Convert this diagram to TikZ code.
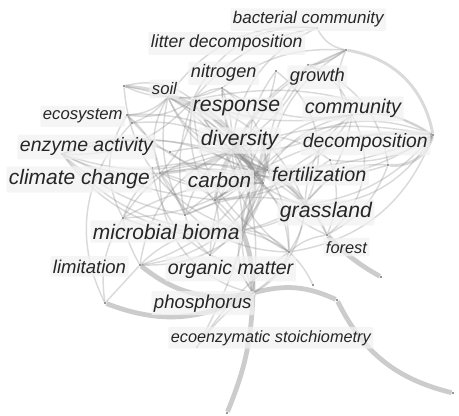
\documentclass[tikz,border=0pt]{standalone}
\usepackage{fontspec}
\newfontfamily\kwfont{Liberation Sans}
\usetikzlibrary{positioning}

\begin{document}
\begin{tikzpicture}[
        x=0.75pt, y=-0.75pt,
        dot/.style={circle, fill=black!55, inner sep=0pt, minimum size=1.8pt},
        link/.style={draw=black!45, draw opacity=0.32, line width=1.1pt},
        wide/.style={link, line width=2.2pt},
        strong/.style={draw=black!20, line width=3.6pt},
        kw/.style={font=\kwfont\itshape\fontsize{#1}{#1}\selectfont, text=black!85,
            fill=black!5, fill opacity=0.75, text opacity=1, inner xsep=2pt,
            inner ysep=2.5pt, anchor=base west, rounded corners=1pt}
    ]

    \useasboundingbox (0,0) rectangle (459,416);

    % keyword positions
    \node[dot] (bac) at (317,28) {};
    \node[dot] (lit) at (346,50) {};
    \node[dot] (gro) at (308,65) {};
    \node[dot] (grb) at (276,71) {};
    \node[dot] (nit) at (222,88) {};
    \node[dot] (soi) at (168,97) {};
    \node[dot] (soa) at (124,86) {};
    \node[dot] (eco) at (127,115) {};
    \node[dot] (ecb) at (132,123) {};
    \node[dot] (res) at (193,100) {};
    \node[dot] (com) at (352,115) {};
    \node[dot] (enz) at (62,154) {};
    \node[dot] (ena) at (170,152) {};
    \node[dot] (cli) at (160,173) {};
    \node[dot] (clb) at (152,168) {};
    \node[dot] (div) at (232,150) {};
    \node[dot] (dva) at (262,135) {};
    \node[dot] (dec) at (433,135) {};
    \node[dot] (dcb) at (388,165) {};
    \node[dot] (car) at (255,175) {};
    \node[dot] (fer) at (267,170) {};
    \node[dot] (fea) at (263,183) {};
    \node[dot] (gra) at (305,205) {};
    \node[dot] (mic) at (242,230) {};
    \node[dot] (mcb) at (123,218) {};
    \node[dot] (org) at (289,252) {};
    \node[dot] (orb) at (210,255) {};
    \node[dot] (for) at (327,235) {};
    \node[dot] (foe) at (381,277) {};
    \node[dot] (lim) at (140,265) {};
    \node[dot] (lmb) at (105,303) {};
    \node[dot] (pho) at (253,293) {};
    \node[dot] (phb) at (313,285) {};
    \node[dot] (phc) at (337,300) {};
    \node[dot] (pen) at (453,393) {};
    \node[dot] (eez) at (197,347) {};
    \node[dot] (bot) at (227,413) {};
    \node[dot] (cen) at (215,200) {};
    \node[dot] (mid) at (330,160) {};
    \node[dot] (lft) at (185,215) {};

    % light wide arcs
    \draw[strong] (lmb) to[bend right=25] (pho);
    \draw[strong] (lim) to[bend right=25] (pho);
    \draw[strong] (mic) to[bend left=10] (pho);
    \draw[strong] (pho) to[bend left=10] (bot);
    \draw[strong] (pho) to[bend left=20] (phc);
    \draw[strong] (phc) to[bend right=25] (pen);
    \draw[strong] (for) to[bend right=8] (foe);
    \draw[wide] (dec) to[bend left=40] (dcb);
    \draw[wide] (lit) to[bend left=35] (dec);
    \draw[link] (lim) -- (lmb);
    \draw[link] (org) to[bend left=10] (phb);
    \draw[link] (mcb) to[bend right=20] (lmb);

    % co-occurrence links
    \draw[link] (div) to[bend left=20] (car);
    \draw[wide] (div) to[bend right=15] (fer);
    \draw[link] (div) to[bend left=10] (res);
    \draw[link] (div) to[bend left=30] (mic);
    \draw[link] (div) to[bend right=25] (org);
    \draw[wide] (div) to[bend left=15] (cli);
    \draw[link] (div) to[bend left=20] (enz);
    \draw[link] (div) to[bend right=20] (gra);
    \draw[link] (div) to[bend left=15] (dec);
    \draw[link] (div) to[bend right=20] (com);
    \draw[link] (div) to[bend left=25] (soi);
    \draw[link] (div) to[bend right=10] (nit);
    \draw[link] (div) to[bend left=20] (lit);
    \draw[link] (div) to[bend right=15] (gro);
    \draw[link] (div) to[bend left=20] (for);
    \draw[link] (div) to[bend left=15] (pho);
    \draw[link] (div) to[bend right=30] (lim);
    \draw[wide] (div) to[bend left=10] (fea);
    \draw[wide] (div) to[bend right=10] (cen);
    \draw[link] (div) to[bend right=20] (lft);
    \draw[wide] (car) to[bend left=10] (fer);
    \draw[wide] (car) to[bend right=15] (dva);
    \draw[link] (car) to[bend right=20] (res);
    \draw[wide] (car) to[bend left=15] (mic);
    \draw[link] (car) to[bend left=20] (org);
    \draw[link] (car) to[bend right=10] (cli);
    \draw[link] (car) to[bend right=25] (enz);
    \draw[link] (car) to[bend left=25] (gra);
    \draw[link] (car) to[bend right=20] (dec);
    \draw[link] (car) to[bend left=30] (com);
    \draw[link] (car) to[bend right=15] (soi);
    \draw[link] (car) to[bend left=20] (nit);
    \draw[link] (car) to[bend right=20] (pho);
    \draw[link] (car) to[bend left=25] (eco);
    \draw[link] (car) to[bend left=15] (mcb);
    \draw[link] (car) to[bend right=15] (for);
    \draw[link] (car) to[bend left=10] (lft);
    \draw[link] (fer) to[bend left=20] (res);
    \draw[link] (fer) to[bend right=25] (mic);
    \draw[link] (fer) to[bend left=15] (org);
    \draw[wide] (fer) to[bend left=10] (gra);
    \draw[link] (fer) to[bend right=10] (dec);
    \draw[link] (fer) to[bend left=20] (com);
    \draw[link] (fer) to[bend right=25] (nit);
    \draw[link] (fer) to[bend left=20] (gro);
    \draw[link] (fer) to[bend left=30] (cli);
    \draw[link] (fer) to[bend right=20] (enz);
    \draw[link] (fer) to[bend left=30] (soi);
    \draw[link] (fer) to[bend right=15] (dcb);
    \draw[link] (fer) to[bend left=25] (lit);
    \draw[link] (fer) to[bend right=15] (lft);
    \draw[link] (res) to[bend right=30] (mic);
    \draw[link] (res) to[bend left=20] (cli);
    \draw[link] (res) to[bend left=25] (enz);
    \draw[link] (res) to[bend right=10] (soi);
    \draw[link] (res) to[bend left=15] (nit);
    \draw[link] (res) to[bend right=15] (com);
    \draw[link] (res) to[bend left=25] (gra);
    \draw[link] (res) to[bend right=30] (org);
    \draw[link] (res) to[bend left=20] (dec);
    \draw[link] (res) to[bend left=20] (eco);
    \draw[link] (res) to[bend right=25] (soa);
    \draw[link] (res) to[bend left=15] (fea);
    \draw[link] (res) to[bend left=35] (bac);
    \draw[link] (res) to[bend right=15] (lft);
    \draw[link] (mic) to[bend left=20] (org);
    \draw[link] (mic) to[bend right=20] (cli);
    \draw[link] (mic) to[bend left=25] (enz);
    \draw[link] (mic) to[bend right=15] (gra);
    \draw[link] (mic) to[bend left=20] (lim);
    \draw[link] (mic) to[bend right=25] (pho);
    \draw[link] (mic) to[bend left=15] (mcb);
    \draw[link] (mic) to[bend left=35] (dec);
    \draw[link] (mic) to[bend right=30] (soi);
    \draw[link] (mic) to[bend right=35] (com);
    \draw[wide] (fea) to[bend left=15] (mic);
    \draw[wide] (fea) to[bend right=10] (dva);
    \draw[link] (org) to[bend right=15] (gra);
    \draw[link] (org) to[bend left=20] (pho);
    \draw[link] (org) to[bend right=40] (lim);
    \draw[link] (org) to[bend left=15] (for);
    \draw[link] (org) to[bend left=30] (cli);
    \draw[link] (org) to[bend right=30] (dec);
    \draw[link] (cli) to[bend left=15] (enz);
    \draw[link] (cli) to[bend right=20] (eco);
    \draw[link] (cli) to[bend left=25] (soi);
    \draw[link] (cli) to[bend left=30] (gra);
    \draw[link] (cli) to[bend right=20] (mcb);
    \draw[link] (cli) to[bend right=40] (pho);
    \draw[link] (cli) to[bend left=10] (lft);
    \draw[link] (gra) to[bend right=20] (dec);
    \draw[link] (gra) to[bend left=25] (com);
    \draw[link] (gra) to[bend left=15] (for);
    \draw[link] (gra) to[bend left=30] (dcb);
    \draw[link] (gra) to[bend left=25] (pho);
    \draw[link] (com) to[bend left=20] (dec);
    \draw[link] (com) to[bend right=25] (gro);
    \draw[link] (com) to[bend left=30] (lit);
    \draw[link] (com) to[bend left=20] (nit);
    \draw[link] (com) to[bend left=40] (for);
    \draw[link] (dec) to[bend left=20] (mid);
    \draw[link] (dec) to[bend left=30] (gra);
    \draw[link] (dec) to[bend right=35] (car);
    \draw[link] (dcb) to[bend left=20] (for);
    \draw[link] (soi) to[bend left=10] (soa);
    \draw[link] (soi) to[bend right=15] (nit);
    \draw[link] (soi) to[bend left=20] (eco);
    \draw[link] (soi) to[bend left=15] (ecb);
    \draw[link] (soi) to[bend left=30] (bac);
    \draw[link] (soi) to[bend left=15] (fea);
    \draw[link] (soi) to[bend right=20] (lft);
    \draw[wide] (soa) to[bend left=30] (car);
    \draw[link] (soa) to[bend left=20] (fer);
    \draw[link] (soa) to[bend right=35] (mic);
    \draw[link] (lit) to[bend left=15] (gro);
    \draw[link] (lit) to[bend left=25] (bac);
    \draw[link] (lit) to[bend right=25] (cen);
    \draw[link] (nit) to[bend left=20] (lit);
    \draw[link] (nit) to[bend right=20] (fea);
    \draw[link] (bac) to[bend right=30] (div);
    \draw[link] (bac) to[bend right=20] (res);
    \draw[link] (grb) to[bend left=20] (div);
    \draw[link] (grb) to[bend right=25] (car);
    \draw[link] (grb) to[bend left=40] (gra);
    \draw[link] (gro) to[bend left=30] (dcb);
    \draw[link] (eco) -- (ecb);
    \draw[link] (eco) to[bend right=30] (mcb);
    \draw[link] (eco) to[bend left=25] (fer);
    \draw[link] (ecb) to[bend right=35] (lmb);
    \draw[link] (enz) to[bend left=25] (ena);
    \draw[link] (enz) to[bend right=10] (cen);
    \draw[link] (enz) to[bend right=30] (mic);
    \draw[link] (enz) to[bend right=15] (lft);
    \draw[link] (ena) to[bend left=10] (div);
    \draw[link] (ena) to[bend right=20] (fea);
    \draw[link] (clb) to[bend left=15] (car);
    \draw[link] (clb) to[bend right=25] (orb);
    \draw[link] (ecb) to[bend left=20] (div);
    \draw[link] (mcb) to[bend right=10] (lim);
    \draw[link] (mcb) to[bend left=25] (div);
    \draw[link] (mcb) to[bend left=15] (fea);
    \draw[link] (lim) to[bend right=20] (car);
    \draw[link] (lim) to[bend right=30] (fer);
    \draw[link] (lft) to[bend right=15] (orb);
    \draw[link] (lft) to[bend left=20] (gra);
    \draw[link] (cen) to[bend left=15] (fea);
    \draw[link] (cen) to[bend right=20] (dva);
    \draw[link] (cen) to[bend left=20] (orb);
    \draw[link] (cen) to[bend right=15] (mid);
    \draw[link] (cen) to[bend left=20] (dec);
    \draw[link] (cen) to[bend right=25] (com);
    \draw[link] (dva) to[bend left=15] (mid);
    \draw[link] (orb) to[bend right=15] (fea);
    \draw[link] (orb) to[bend left=20] (pho);
    \draw[link] (orb) to[bend left=20] (dva);
    \draw[link] (mid) to[bend left=20] (for);
    \draw[link] (pho) to[bend right=10] (eez);
    \draw[link] (eez) to[bend right=10] (car);
    \draw[link] (eez) to[bend left=10] (org);

    % keyword labels
    \node[kw=12.7] (lbac) at (230,24) {bacterial community};
    \node[kw=13.2] (llit) at (148,48) {litter decomposition};
    \node[kw=13.6] (lnit) at (188,78) {nitrogen};
    \node[kw=13.7] (lgro) at (287,82) {growth};
    \node[kw=12.5] (lsoi) at (149,95) {soil};
    \node[kw=15.9] (lres) at (190,112) {response};
    \node[kw=14.9] (lcom) at (302,114) {community};
    \node[kw=12.5] (leco) at (40,120) {ecosystem};
    \node[kw=14.6] (lenz) at (17,152) {enzyme activity};
    \node[kw=15.8] (ldiv) at (198,146) {diversity};
    \node[kw=14.5] (ldec) at (300,148) {decomposition};
    \node[kw=15.7] (lcli) at (6,185) {climate change};
    \node[kw=15.5] (lcar) at (185,188) {carbon};
    \node[kw=14.8] (lfer) at (269,182) {fertilization};
    \node[kw=15.9] (lgra) at (277,218) {grassland};
    \node[kw=15.7] (lmic) at (90,239) {microbial bioma};
    \node[kw=13.9] (llim) at (50,273) {limitation};
    \node[kw=14.7] (lorg) at (165,274) {organic matter};
    \node[kw=12.3] (lfor) at (323,253) {forest};
    \node[kw=14.0] (lpho) at (151,308) {phosphorus};
    \node[kw=12.2] (leez) at (168,342) {ecoenzymatic stoichiometry};
\end{tikzpicture}
\end{document}
